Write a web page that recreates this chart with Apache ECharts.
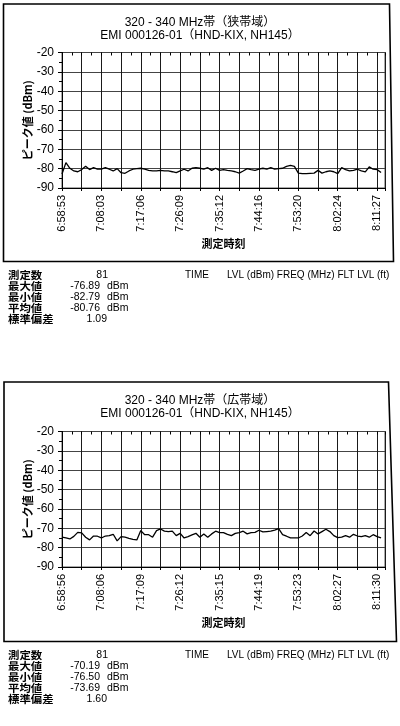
<!DOCTYPE html>
<html>
<head>
<meta charset="utf-8">
<script src="https://cdn.jsdelivr.net/npm/echarts@6/dist/echarts.min.js"></script>
<style>
  html, body { margin: 0; padding: 0; background: #fff; }
  #chart { width: 400px; height: 726px; }
</style>
</head>
<body>
<div id="chart"></div>
<script>
// ---- data ----------------------------------------------------------------
const narrowTitle = ['320 - 340 MHz帯（狭帯域）', 'EMI 000126-01（HND-KIX, NH145）'];
const wideTitle = ['320 - 340 MHz帯（広帯域）', 'EMI 000126-01（HND-KIX, NH145）'];

// time stamps shown every 10th sample
const narrowTimeLabels = ['6:58:53', '7:08:03', '7:17:06', '7:26:09', '7:35:12', '7:44:16', '7:53:20', '8:02:24', '8:11:27'];
const wideTimeLabels = ['6:58:56', '7:08:06', '7:17:09', '7:26:12', '7:35:15', '7:44:19', '7:53:23', '8:02:27', '8:11:30'];

// peak level per sample (dBm)
const narrowPeak = [
  -82.79, -76.89, -79.8, -81.2, -81.6, -80.5, -78.8, -80.5, -79.5, -80.3,
  -80.2, -79.5, -80.3, -81.2, -80.0, -82.1, -82.4, -81.2, -80.3, -80.0,
  -79.8, -80.3, -80.9, -81.2, -81.2, -80.9, -81.2, -81.2, -81.6, -82.1,
  -81.2, -80.3, -81.2, -79.8, -79.5, -79.8, -80.3, -79.5, -80.9, -79.8,
  -80.9, -80.5, -80.9, -81.2, -81.6, -82.3, -81.2, -80.0, -80.5, -80.9,
  -80.3, -79.8, -80.3, -79.5, -80.3, -80.0, -79.8, -78.8, -78.3, -78.8,
  -82.3, -82.6, -82.6, -82.4, -82.3, -80.9, -82.3, -81.6, -81.2, -81.6,
  -82.6, -79.5, -80.5, -81.2, -80.9, -80.3, -81.2, -81.7, -79.1, -80.3,
  -80.5, -82.0
];
const widePeak = [
  -74.6, -75.0, -75.5, -74.2, -72.1, -72.4, -74.6, -76.0, -74.0, -74.1,
  -75.0, -74.0, -73.8, -73.1, -76.50, -74.3, -74.6, -75.2, -75.7, -76.0,
  -71.2, -73.3, -73.3, -74.6, -71.2, -70.35, -71.5, -71.7, -71.5, -73.8,
  -72.6, -75.0, -74.3, -73.4, -72.6, -74.6, -72.9, -74.6, -72.9, -71.5,
  -72.2, -72.2, -73.1, -73.8, -72.6, -72.2, -71.5, -72.9, -72.2, -72.1,
  -71.0, -71.9, -71.7, -71.5, -70.9, -70.19, -73.3, -74.1, -75.0, -75.0,
  -75.0, -74.0, -72.2, -73.8, -71.4, -72.9, -71.7, -70.5, -71.7, -73.8,
  -74.8, -74.6, -73.8, -74.6, -73.1, -74.0, -74.3, -73.8, -74.6, -73.3,
  -74.3, -75.0
];

const yMin = -90, yMax = -20, yStep = 10;
const xMax = 82;

const statLabels = ['測定数', '最大値', '最小値', '平均値', '標準偏差'];
const narrowStats = ['81', '-76.89', '-82.79', '-80.76', '1.09'];
const wideStats = ['81', '-70.19', '-76.50', '-73.69', '1.60'];
const statUnit = 'dBm';
const headerCols = ['TIME', 'LVL (dBm)', 'FREQ (MHz)', 'FLT LVL (ft)'];

const yName = 'ピーク値 (dBm)';
const xName = '測定時刻';

// ---- drawing -------------------------------------------------------------
const FONT = "'Liberation Sans', 'Noto Sans CJK JP', sans-serif";
const CJK = "'Noto Sans CJK JP', 'Liberation Sans', sans-serif";

const panels = [
  { title: narrowTitle, times: narrowTimeLabels, data: narrowPeak, stats: narrowStats,
    gridTop: 52.5, frame: [[3.5, 4], [389.5, 4], [393.5, 261.5], [3.5, 261.5]], titleY: 23, statY: 275 },
  { title: wideTitle, times: wideTimeLabels, data: widePeak, stats: wideStats,
    gridTop: 431.5, frame: [[4, 382], [388.5, 382], [396.5, 641.5], [4, 641.5]], titleY: 401, statY: 655 }
];

const grid = [], xAxis = [], yAxis = [], series = [], graphic = [];

panels.forEach((p, k) => {
  grid.push({
    left: 62, top: p.gridTop, width: 323, height: 135.5,
    show: true, borderColor: '#555', borderWidth: 1, backgroundColor: 'transparent',
    containLabel: false, outerBoundsMode: 'none'
  });

  // main time axis (sample index), labels every 10 samples
  xAxis.push({
    type: 'value', gridIndex: k, min: 0, max: xMax, interval: 5,
    axisLine: { show: true, onZero: false, lineStyle: { color: '#000', width: 1 } },
    axisTick: { show: true, inside: false, length: 3, lineStyle: { color: '#000' } },
    axisLabel: {
      show: true, rotate: 90, margin: 7, fontSize: 11, fontFamily: FONT, color: '#000',
      hideOverlap: false, showMinLabel: true, showMaxLabel: true,
      formatter: v => (v % 10 === 0 ? (p.times[v / 10] || '') : '')
    },
    splitLine: { show: true, lineStyle: { color: '#1a1a1a', width: 1 } },
    name: xName, nameLocation: 'middle', nameGap: 50, nameMoveOverlap: false,
    nameTextStyle: { fontSize: 11, fontWeight: 'bold', fontFamily: CJK, color: '#000' }
  });
  // minor tick marks between grid lines
  xAxis.push({
    type: 'value', gridIndex: k, min: 0, max: xMax, interval: 2.5,
    axisLine: { show: false }, axisLabel: { show: false }, splitLine: { show: false },
    axisTick: { show: true, inside: true, length: 3, lineStyle: { color: '#000' } }
  });

  yAxis.push({
    type: 'value', gridIndex: k, min: yMin, max: yMax, interval: yStep,
    axisLine: { show: true, onZero: false, lineStyle: { color: '#000', width: 1 } },
    axisTick: { show: true, inside: false, length: 4, lineStyle: { color: '#000' } },
    axisLabel: { show: true, margin: 8, fontSize: 12, fontFamily: FONT, color: '#000' },
    splitLine: { show: true, lineStyle: { color: '#444', width: 1 } },
    name: yName, nameLocation: 'middle', nameGap: 29, nameRotate: 90, nameMoveOverlap: false,
    nameTextStyle: { fontSize: 11, fontWeight: 'bold', fontFamily: CJK, color: '#000' }
  });
  yAxis.push({
    type: 'value', gridIndex: k, min: yMin, max: yMax, interval: yStep / 2,
    axisLine: { show: false }, axisLabel: { show: false }, splitLine: { show: false },
    axisTick: { show: true, inside: true, length: 3, lineStyle: { color: '#000' } }
  });

  series.push({
    type: 'line', xAxisIndex: k * 2, yAxisIndex: k * 2,
    data: p.data.map((v, i) => [i, v]),
    showSymbol: false, symbol: 'none', silent: true,
    lineStyle: { color: '#000', width: 1.3 }
  });

  // outer frame of the panel
  graphic.push({
    type: 'polygon', silent: true, z: 10,
    shape: { points: p.frame },
    style: { fill: 'none', stroke: '#000', lineWidth: 1.6 }
  });

  // two-line heading
  p.title.forEach((t, j) => {
    graphic.push({
      type: 'text', x: 200, y: p.titleY + j * 12.3, silent: true,
      style: { text: t, fill: '#000', font: `12px ${FONT}`, align: 'center', verticalAlign: 'middle' }
    });
  });

  // summary statistics below the plot
  statLabels.forEach((lab, j) => {
    const y = p.statY + j * 11;
    graphic.push({
      type: 'text', x: 8, y, scaleX: 1.12, silent: true,
      style: { text: lab, fill: '#000', font: `bold 10.2px ${CJK}`, align: 'left', verticalAlign: 'middle' }
    });
    const rightX = j === 0 ? 108 : (j === 4 ? 107 : 100);
    graphic.push({
      type: 'text', x: rightX, y, silent: true,
      style: { text: p.stats[j], fill: '#000', font: `10.5px ${FONT}`, align: 'right', verticalAlign: 'middle' }
    });
    if (j >= 1 && j <= 3) {
      graphic.push({
        type: 'text', x: 107, y, silent: true,
        style: { text: statUnit, fill: '#000', font: `10.5px ${FONT}`, align: 'left', verticalAlign: 'middle' }
      });
    }
  });

  // column headings of the (empty) event table
  graphic.push({
    type: 'text', x: 185, y: p.statY, silent: true,
    style: { text: headerCols[0], fill: '#000', font: `10px ${FONT}`, align: 'left', verticalAlign: 'middle' }
  });
  graphic.push({
    type: 'text', x: 227, y: p.statY, silent: true,
    style: { text: headerCols.slice(1).join(' '), fill: '#000', font: `10px ${FONT}`, align: 'left', verticalAlign: 'middle' }
  });
});

const chart = echarts.init(document.getElementById('chart'), null, { renderer: 'canvas' });
chart.setOption({
  animation: false,
  backgroundColor: '#fff',
  grid, xAxis, yAxis, series, graphic
});
</script>
</body>
</html>
